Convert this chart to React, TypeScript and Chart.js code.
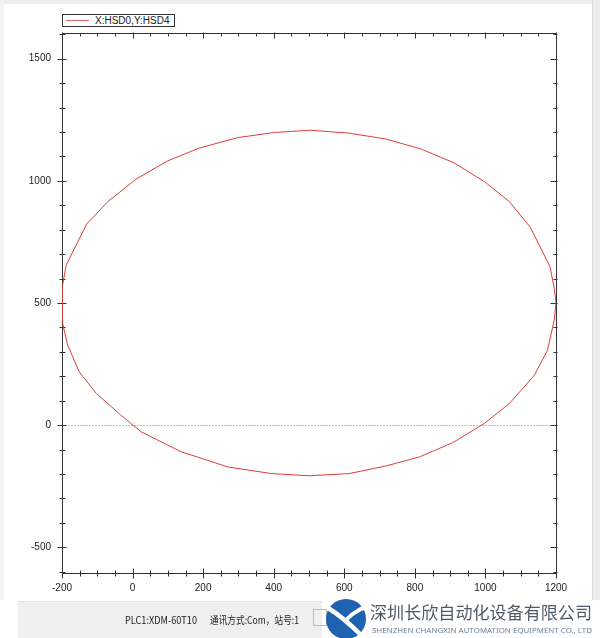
import { useEffect, useRef } from "react";
import { Chart, registerables } from "chart.js";

Chart.register(...registerables);

const SERIES_LABEL = "X:HSD0,Y:HSD4";
const HSD0_X = [1200, 1195, 1183, 1127, 1068, 997, 912, 818, 718, 614, 505, 402, 298, 189, 100, 10, -70, -130, -188, -200, -200, -200, -184, -151, -103, -33, 24, 138, 270, 393, 500, 614, 718, 813, 907, 997, 1068, 1139, 1176, 1195, 1200];
const HSD4_Y = [500, 560, 649, 810, 915, 997, 1073, 1130, 1171, 1195, 1207, 1198, 1177, 1134, 1082, 1007, 915, 823, 656, 560, 500, 427, 328, 218, 130, 41, -27, -109, -171, -198, -207, -198, -167, -130, -72, 7, 89, 205, 307, 430, 500];
const X_TICKS = [-200, 0, 200, 400, 600, 800, 1000, 1200];
const Y_TICKS = [-500, 0, 500, 1000, 1500];
const X_RANGE = [-200, 1200];
const Y_RANGE = [-605, 1605];
const STATUS_PLC = "PLC1:XDM-60T10";
const STATUS_COMM = "通讯方式:Com，站号:1";
const COMPANY_CN = "深圳长欣自动化设备有限公司";
const COMPANY_EN = "SHENZHEN CHANGXIN AUTOMATION EQUIPMENT CO., LTD";

const AXIS_FONT = { family: "'Liberation Sans', Arial, sans-serif", size: 10 };

const framePlugin = {
  id: "frame",
  beforeDatasetsDraw(chart: any) {
    const { ctx, chartArea: a, scales } = chart;
    const x = scales.x;
    const y = scales.y;
    ctx.save();
    const L = Math.round(a.left) + 0.5;
    const R = Math.round(a.right) + 0.5;
    const T = Math.round(a.top) + 0.5;
    const B = Math.round(a.bottom) + 0.5;
    const y0 = Math.round(y.getPixelForValue(0)) + 0.5;
    ctx.strokeStyle = "#777";
    ctx.lineWidth = 1;
    ctx.setLineDash([1, 2]);
    ctx.beginPath();
    ctx.moveTo(L, y0);
    ctx.lineTo(R, y0);
    ctx.stroke();
    ctx.setLineDash([]);
    ctx.strokeStyle = "#333";
    ctx.strokeRect(L, T, R - L, B - T);
    ctx.beginPath();
    for (let v = X_RANGE[0]; v <= X_RANGE[1]; v += 50) {
      const px = Math.round(x.getPixelForValue(v)) + 0.5;
      const major = v % 200 === 0;
      ctx.moveTo(px, B - (major ? 5 : 3));
      ctx.lineTo(px, B + (major ? 5 : 3));
      ctx.moveTo(px, T - (major ? 1 : 0));
      ctx.lineTo(px, T + (major ? 5 : 3));
    }
    for (let v = -600; v <= 1600; v += 100) {
      const py = Math.round(y.getPixelForValue(v)) + 0.5;
      const major = v % 500 === 0;
      ctx.moveTo(L - (major ? 5 : 3), py);
      ctx.lineTo(L + (major ? 4 : 3), py);
      ctx.moveTo(R - (major ? 6 : 3), py);
      ctx.lineTo(R + 1, py);
    }
    ctx.stroke();
    ctx.restore();
  },
};

export default function App() {
  const ref = useRef<HTMLCanvasElement | null>(null);

  useEffect(() => {
    if (!ref.current) return;
    const chart = new Chart(ref.current, {
      type: "scatter",
      data: {
        datasets: [
          {
            label: SERIES_LABEL,
            data: HSD0_X.map((xv, i) => ({ x: xv, y: HSD4_Y[i] })),
            showLine: true,
            borderColor: "#e03c3c",
            backgroundColor: "#e03c3c",
            borderWidth: 1,
            pointRadius: 0,
            tension: 0,
            fill: false,
          },
        ],
      },
      options: {
        responsive: false,
        animation: false,
        devicePixelRatio: 1,
        layout: { padding: { top: 33, right: 44, left: 0, bottom: 0 } },
        plugins: { legend: { display: false }, tooltip: { enabled: false } },
        scales: {
          x: {
            type: "linear",
            min: X_RANGE[0],
            max: X_RANGE[1],
            afterBuildTicks: (s: any) => {
              s.ticks = X_TICKS.map((v) => ({ value: v }));
            },
            afterFit: (s: any) => {
              s.height = 27;
            },
            grid: { display: false, drawTicks: false },
            border: { display: false },
            ticks: {
              padding: 9,
              color: "#222",
              font: AXIS_FONT,
              maxRotation: 0,
              autoSkip: false,
              callback: (v: any) => String(v),
            },
          },
          y: {
            type: "linear",
            min: Y_RANGE[0],
            max: Y_RANGE[1],
            afterBuildTicks: (s: any) => {
              s.ticks = Y_TICKS.map((v) => ({ value: v }));
            },
            afterFit: (s: any) => {
              s.width = 62;
            },
            grid: { display: false, drawTicks: false },
            border: { display: false },
            ticks: {
              padding: 11,
              color: "#222",
              font: AXIS_FONT,
              autoSkip: false,
              callback: (v: any) => String(v),
            },
          },
        },
      },
      plugins: [framePlugin],
    } as any);
    return () => chart.destroy();
  }, []);

  return (
    <div style={{ position: "relative", width: 600, height: 638, background: "#fff", overflow: "hidden" }}>
      <style>{"body{margin:0}"}</style>
      <div style={{ position: "absolute", left: 0, top: 0, width: 600, height: 4, background: "#ededed" }} />
      <div style={{ position: "absolute", left: 0, top: 0, width: 4, height: 600, background: "#f4f4f4" }} />
      <div style={{ position: "absolute", left: 592, top: 0, width: 8, height: 600, background: "#ececec", borderLeft: "1px solid #dcdcdc" }} />
      <canvas ref={ref} width={600} height={600} style={{ position: "absolute", left: 0, top: 0 }} />
      <div
        style={{
          position: "absolute",
          left: 62,
          top: 14,
          width: 111,
          height: 11,
          border: "1px solid #333",
          background: "#fff",
        }}
      >
        <div style={{ position: "absolute", left: 3, top: 5, width: 23, height: 1, background: "#e86a6a" }} />
        <div
          style={{
            position: "absolute",
            left: 32,
            top: -1,
            fontFamily: "'Liberation Sans', Arial, sans-serif",
            fontSize: 10,
            lineHeight: "13px",
            color: "#222",
            whiteSpace: "nowrap",
          }}
        >
          {SERIES_LABEL}
        </div>
      </div>
      <div style={{ position: "absolute", left: 18, top: 601, width: 304, height: 37, background: "#efefef", borderTop: "1px solid #e2e2e2" }} />
      <svg width={600} height={40} style={{ position: "absolute", left: 0, top: 598 }}>
        <text x={125} y={26} fontFamily="'Noto Sans CJK SC', sans-serif" fontSize={10.5} fill="#222" textLength={72} lengthAdjust="spacingAndGlyphs">
          {STATUS_PLC}
        </text>
        <text x={210} y={26} fontFamily="'Noto Sans CJK SC', sans-serif" fontSize={10.5} fill="#222" textLength={89} lengthAdjust="spacingAndGlyphs">
          {STATUS_COMM}
        </text>
        <rect x={313.5} y={11.5} width={13} height={16} fill="none" stroke="#bbb" />
        <circle cx={346} cy={21} r={20} fill="#1f63b0" />
        <path d="M 328 10 C 338 16, 348 24, 362 38" stroke="#fff" strokeWidth={4.5} fill="none" />
        <path d="M 344 24 C 350 18, 356 12, 368 8" stroke="#fff" strokeWidth={4} fill="none" />
        <text x={370} y={21} fontFamily="'Noto Sans CJK SC', sans-serif" fontSize={17.5} fill="#4f5b68" textLength={222} lengthAdjust="spacingAndGlyphs">
          {COMPANY_CN}
        </text>
        <text x={372} y={35} fontFamily="'Noto Sans', sans-serif" fontSize={7.5} fill="#6e7e8f" textLength={220} lengthAdjust="spacingAndGlyphs">
          {COMPANY_EN}
        </text>
      </svg>
    </div>
  );
}
